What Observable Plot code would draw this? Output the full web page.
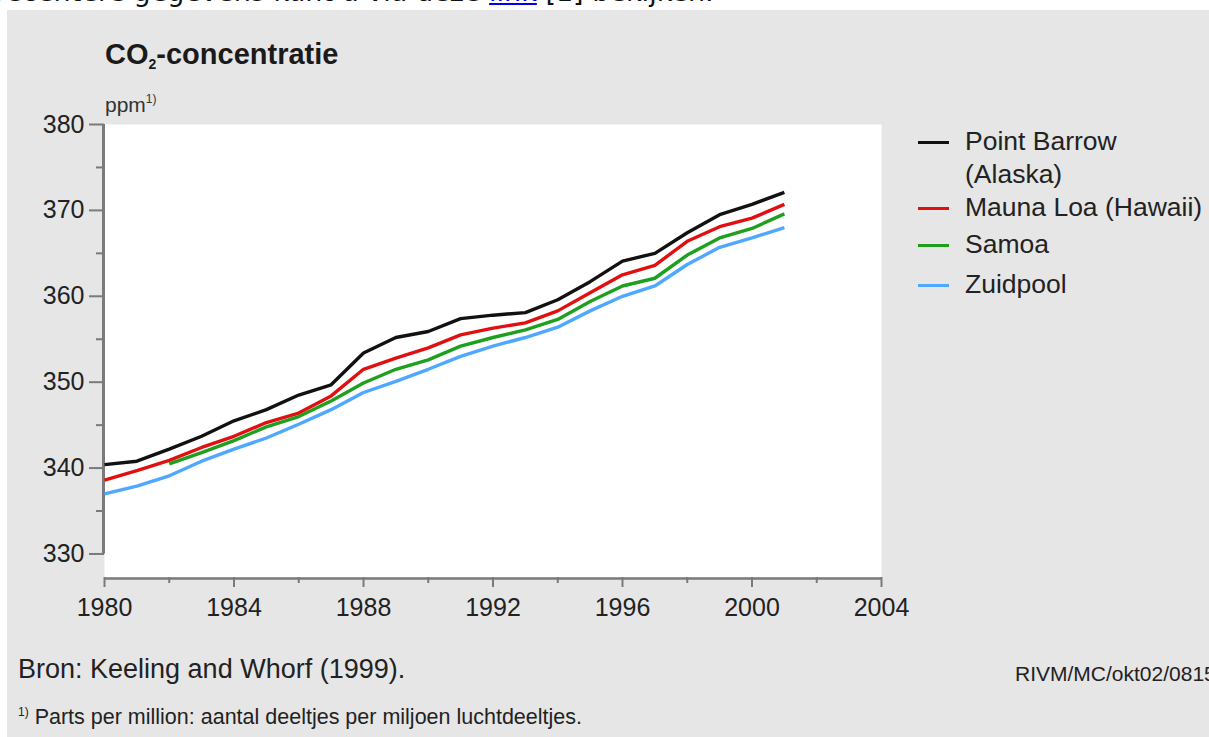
<!DOCTYPE html>
<html>
<head>
<meta charset="utf-8">
<script src="https://cdn.jsdelivr.net/npm/d3@7"></script>
<script src="https://cdn.jsdelivr.net/npm/@observablehq/plot@0.6"></script>
<style>
  html, body { margin: 0; padding: 0; background: #fff; }
  #wrap { position: relative; width: 1209px; height: 737px; overflow: hidden; font-family: "Liberation Sans", Arial, sans-serif; color: #222; }
  #top { position: absolute; left: -5px; top: -24px; font-family: "DejaVu Sans", Verdana, sans-serif; font-size: 27px; line-height: 32px; color: #111; white-space: nowrap; }
  #top a { color: #0000ee; text-decoration: underline; }
  #panel { position: absolute; left: 7px; top: 10px; width: 1210px; height: 730px; background: #e6e6e6; }
  #chart { position: absolute; left: 0; top: 0; }
  .abs { position: absolute; white-space: nowrap; }
  #title { left: 105px; top: 38px; font-size: 29px; font-weight: bold; color: #1a1a1a; }
  #title sub { font-size: 14px; vertical-align: -5px; }
  #unit { left: 105px; top: 92px; font-size: 21px; color: #333; }
  #unit sup { font-size: 12px; vertical-align: 9px; }
  .leg { position: absolute; font-size: 26.5px; color: #222; line-height: 33px; }
  .sw { position: absolute; width: 31px; height: 3px; }
  #src { left: 18px; top: 654px; font-size: 27px; color: #222; }
  #rivm { left: 1015px; top: 662px; font-size: 21px; color: #222; }
  #note { left: 18px; top: 705px; font-size: 21.5px; color: #222; }
  #note sup { font-size: 12px; vertical-align: 8px; }
</style>
</head>
<body>
<div id="wrap">
  <div id="top">recentere gegevens kunt u via deze <a href="#">link</a> [1] bekijken.</div>
  <div id="panel"></div>
  <div id="chart"></div>
  <div class="abs" id="title">CO<sub>2</sub>-concentratie</div>
  <div class="abs" id="unit">ppm<sup>1)</sup></div>
  <div id="legend"></div>
  <div class="abs" id="src">Bron: Keeling and Whorf (1999).</div>
  <div class="abs" id="rivm">RIVM/MC/okt02/0815</div>
  <div class="abs" id="note"><sup>1)</sup> Parts per million: aantal deeltjes per miljoen luchtdeeltjes.</div>
</div>
<script>
const years = [1980, 1981, 1982, 1983, 1984, 1985, 1986, 1987, 1988, 1989, 1990,
               1991, 1992, 1993, 1994, 1995, 1996, 1997, 1998, 1999, 2000, 2001];
const pointBarrow = [340.4, 340.8, 342.2, 343.7, 345.5, 346.8, 348.5, 349.7, 353.4, 355.2, 355.9,
                     357.4, 357.8, 358.1, 359.6, 361.7, 364.1, 365.0, 367.4, 369.5, 370.7, 372.1];
const maunaLoa    = [338.6, 339.7, 340.9, 342.4, 343.7, 345.3, 346.4, 348.4, 351.5, 352.8, 354.0,
                     355.5, 356.3, 356.9, 358.3, 360.4, 362.5, 363.6, 366.4, 368.1, 369.1, 370.7];
const samoa       = [null, null, 340.5, 341.8, 343.2, 344.8, 346.0, 347.8, 349.9, 351.5, 352.6,
                     354.2, 355.2, 356.1, 357.3, 359.4, 361.2, 362.1, 364.8, 366.8, 367.9, 369.6];
const zuidpool    = [337.0, 337.9, 339.1, 340.8, 342.2, 343.5, 345.1, 346.8, 348.8, 350.1, 351.5,
                     353.0, 354.2, 355.2, 356.4, 358.3, 360.0, 361.2, 363.7, 365.7, 366.8, 368.0];

const seriesNames  = ["Point Barrow (Alaska)", "Mauna Loa (Hawaii)", "Samoa", "Zuidpool"];
const legendLabels = [["Point Barrow", "(Alaska)"], ["Mauna Loa (Hawaii)"], ["Samoa"], ["Zuidpool"]];
const seriesColors = ["#111111", "#e01010", "#1ea01e", "#4fa8ff"];
const seriesValues = [pointBarrow, maunaLoa, samoa, zuidpool];

const yMajor = [330, 340, 350, 360, 370, 380];
const yMinor = [335, 345, 355, 365, 375];
const xMajor = [1980, 1984, 1988, 1992, 1996, 2000, 2004];
const xMinor = [1982, 1986, 1990, 1994, 1998, 2002];

const yMin = 327.26;
const axisColor = "#7a7a7a";

const rows = [];
seriesValues.forEach((vals, s) => {
  years.forEach((yr, i) => {
    rows.push({year: yr, value: vals[i] == null ? NaN : vals[i], series: seriesNames[s]});
  });
});

const chart = Plot.plot({
  width: 1209,
  height: 737,
  marginLeft: 104,
  marginRight: 328,
  marginTop: 124,
  marginBottom: 160,
  style: {background: "transparent", fontFamily: "'Liberation Sans', Arial, sans-serif", overflow: "visible"},
  x: {domain: [1980, 2004]},
  y: {domain: [yMin, 380]},
  color: {domain: seriesNames, range: seriesColors},
  marks: [
    Plot.frame({fill: "white", stroke: null}),
    Plot.axisY({ticks: yMajor, tickSize: 15, stroke: axisColor, strokeWidth: 2, text: null, label: null}),
    Plot.axisY({ticks: yMinor, tickSize: 8, stroke: axisColor, strokeWidth: 2, text: null, label: null}),
    Plot.axisY({ticks: yMajor, tickSize: 0, tickPadding: 20, fontSize: 25, fill: "#222", label: null}),
    Plot.ruleX([1980], {y1: 330, y2: 380, stroke: axisColor, strokeWidth: 3, dx: -1}),
    Plot.ruleY([yMin], {x1: 1980, x2: 2004, stroke: axisColor, strokeWidth: 2.5, dy: 1}),
    Plot.axisX({ticks: xMajor, tickSize: 10, stroke: axisColor, strokeWidth: 2, text: null, label: null}),
    Plot.axisX({ticks: xMinor, tickSize: 6, stroke: axisColor, strokeWidth: 2, text: null, label: null}),
    Plot.axisX({ticks: xMajor, tickSize: 0, tickPadding: 21, fontSize: 25, fill: "#222", label: null, tickFormat: d => String(d)}),
    Plot.line(rows, {x: "year", y: "value", z: "series", stroke: "series", strokeWidth: 3.4, strokeLinejoin: "round", strokeLinecap: "butt"})
  ]
});
document.getElementById("chart").appendChild(chart);

// legend
const legend = document.getElementById("legend");
const legendTops = [125, 191, 228, 268];
legendLabels.forEach((lines, i) => {
  const sw = document.createElement("div");
  sw.className = "sw";
  sw.style.left = "918px";
  sw.style.top = (legendTops[i] + 16) + "px";
  sw.style.background = seriesColors[i];
  legend.appendChild(sw);
  const t = document.createElement("div");
  t.className = "leg";
  t.style.left = "965px";
  t.style.top = legendTops[i] + "px";
  t.innerHTML = lines.join("<br>");
  legend.appendChild(t);
});
</script>
</body>
</html>
